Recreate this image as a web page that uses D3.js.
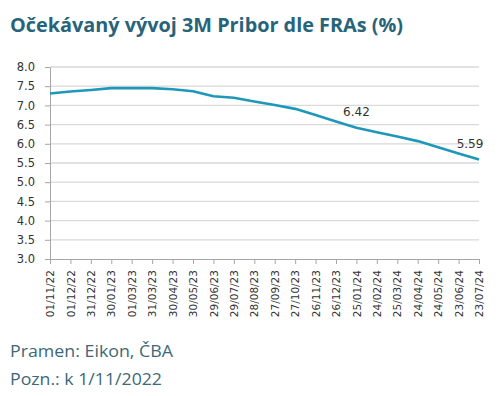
<!DOCTYPE html>
<html><head><meta charset="utf-8">
<script src="https://cdn.jsdelivr.net/npm/d3@7"></script>
<style>
body{margin:0;background:#fff;}
svg{display:block;}
</style></head><body>
<script>
const categories = ["01/11/22","01/12/22","31/12/22","30/01/23","01/03/23","31/03/23","30/04/23","30/05/23","29/06/23","29/07/23","28/08/23","27/09/23","27/10/23","26/11/23","26/12/23","25/01/24","24/02/24","25/03/24","24/04/24","24/05/24","23/06/24","23/07/24"];
const values = [7.31,7.36,7.40,7.45,7.45,7.45,7.42,7.37,7.24,7.20,7.10,7.01,6.91,6.75,6.58,6.42,6.30,6.19,6.07,5.91,5.75,5.59];
const yTicks = [3.0,3.5,4.0,4.5,5.0,5.5,6.0,6.5,7.0,7.5,8.0];
const labelled = ["25/01/24","23/07/24"];
const title = "Očekávaný vývoj 3M Pribor dle FRAs (%)";
const notes = ["Pramen: Eikon, ČBA","Pozn.: k 1/11/2022"];

const W=500,H=396;
const svg=d3.select("body").append("svg").attr("width",W).attr("height",H);
const x=d3.scalePoint().domain(categories).range([50,479]);
const y=d3.scaleLinear().domain([3,8]).range([259,67]);

svg.append("text").attr("x",10).attr("y",32).text(title)
  .attr("font-family","Open Sans").attr("font-weight","bold").attr("font-size",19.5)
  .attr("fill","#27647a").attr("textLength",393).attr("lengthAdjust","spacingAndGlyphs");

// grid
svg.append("g").selectAll("line").data(yTicks.slice(1)).join("line")
  .attr("x1",50).attr("x2",479).attr("y1",d=>y(d)).attr("y2",d=>y(d))
  .attr("stroke","#d9d9d9").attr("stroke-width",1.3);

const yAxis=svg.append("g").attr("transform","translate(50,0)")
  .call(d3.axisLeft(y).tickValues(yTicks).tickFormat(d3.format(".1f")).tickSize(5).tickSizeOuter(0));
yAxis.select(".domain").attr("stroke","#a6a6a6");
yAxis.selectAll(".tick line").attr("stroke","#a6a6a6");
yAxis.selectAll("text").attr("font-family","DejaVu Sans").attr("font-size",11.5).attr("fill","#333").attr("x",-15);

const xAxis=svg.append("g").attr("transform","translate(0,259)")
  .call(d3.axisBottom(x).tickSize(5).tickSizeOuter(0));
xAxis.select(".domain").attr("stroke","#a6a6a6");
xAxis.selectAll(".tick line").attr("stroke","#a6a6a6");
xAxis.selectAll("text").attr("font-family","DejaVu Sans").attr("font-size",10.5).attr("fill","#333")
  .attr("transform","rotate(-90)").attr("text-anchor","end").attr("x",-11).attr("y",0).attr("dy","0.35em");

const line=d3.line().x((d,i)=>x(categories[i])).y(d=>y(d));
svg.append("path").datum(values).attr("d",line).attr("fill","none")
  .attr("stroke","#1f97b9").attr("stroke-width",2.6).attr("stroke-linejoin","round");

const lab=svg.append("g");
labelled.forEach(c=>{
  const i=categories.indexOf(c);
  const last=i===categories.length-1;
  lab.append("text").attr("x",x(c)+(last?-9:0)).attr("y",y(values[i])-12)
    .attr("text-anchor","middle").attr("font-family","DejaVu Sans").attr("font-size",12)
    .attr("fill","#333").text(values[i].toFixed(2));
});

const noteLen=[163,152];
notes.forEach((t,i)=>{
  svg.append("text").attr("x",10).attr("y",357+i*28).text(t)
    .attr("font-family","Open Sans").attr("font-size",16.5).attr("fill","#3d6878")
    .attr("textLength",noteLen[i]).attr("lengthAdjust","spacingAndGlyphs");
});
</script>
</body></html>
